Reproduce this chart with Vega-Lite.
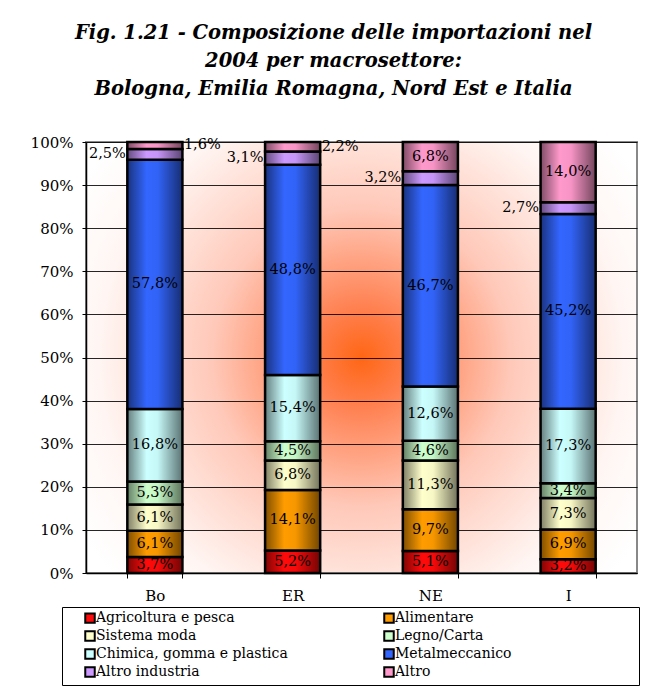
{
  "$schema": "https://vega.github.io/schema/vega-lite/v6.json",
  "autosize": {"type": "none"},
  "padding": {"left": 86, "top": 142, "right": 14, "bottom": 119},
  "width": 551,
  "height": 431,
  "background": "white",
  "title": {
    "text": ["Fig. 1.21 - Composizione delle importazioni nel", "2004 per macrosettore:", "Bologna, Emilia Romagna, Nord Est e Italia"],
    "font": "DejaVu Serif",
    "fontSize": 19.5,
    "fontStyle": "italic",
    "fontWeight": "bold",
    "color": "black",
    "lineHeight": 28,
    "anchor": "middle",
    "dx": -28,
    "offset": 36
  },
  "data": {
    "values": [
      {"cat": "Bo", "sector": "Agricoltura e pesca", "ord": 1, "v": 0.037},
      {"cat": "Bo", "sector": "Alimentare", "ord": 2, "v": 0.061},
      {"cat": "Bo", "sector": "Sistema moda", "ord": 3, "v": 0.061},
      {"cat": "Bo", "sector": "Legno/Carta", "ord": 4, "v": 0.053},
      {"cat": "Bo", "sector": "Chimica, gomma e plastica", "ord": 5, "v": 0.168},
      {"cat": "Bo", "sector": "Metalmeccanico", "ord": 6, "v": 0.578},
      {"cat": "Bo", "sector": "Altro industria", "ord": 7, "v": 0.025},
      {"cat": "Bo", "sector": "Altro", "ord": 8, "v": 0.016},
      {"cat": "ER", "sector": "Agricoltura e pesca", "ord": 1, "v": 0.052},
      {"cat": "ER", "sector": "Alimentare", "ord": 2, "v": 0.141},
      {"cat": "ER", "sector": "Sistema moda", "ord": 3, "v": 0.068},
      {"cat": "ER", "sector": "Legno/Carta", "ord": 4, "v": 0.045},
      {"cat": "ER", "sector": "Chimica, gomma e plastica", "ord": 5, "v": 0.154},
      {"cat": "ER", "sector": "Metalmeccanico", "ord": 6, "v": 0.488},
      {"cat": "ER", "sector": "Altro industria", "ord": 7, "v": 0.031},
      {"cat": "ER", "sector": "Altro", "ord": 8, "v": 0.022},
      {"cat": "NE", "sector": "Agricoltura e pesca", "ord": 1, "v": 0.051},
      {"cat": "NE", "sector": "Alimentare", "ord": 2, "v": 0.097},
      {"cat": "NE", "sector": "Sistema moda", "ord": 3, "v": 0.113},
      {"cat": "NE", "sector": "Legno/Carta", "ord": 4, "v": 0.046},
      {"cat": "NE", "sector": "Chimica, gomma e plastica", "ord": 5, "v": 0.126},
      {"cat": "NE", "sector": "Metalmeccanico", "ord": 6, "v": 0.467},
      {"cat": "NE", "sector": "Altro industria", "ord": 7, "v": 0.032},
      {"cat": "NE", "sector": "Altro", "ord": 8, "v": 0.068},
      {"cat": "I", "sector": "Agricoltura e pesca", "ord": 1, "v": 0.032},
      {"cat": "I", "sector": "Alimentare", "ord": 2, "v": 0.069},
      {"cat": "I", "sector": "Sistema moda", "ord": 3, "v": 0.073},
      {"cat": "I", "sector": "Legno/Carta", "ord": 4, "v": 0.034},
      {"cat": "I", "sector": "Chimica, gomma e plastica", "ord": 5, "v": 0.173},
      {"cat": "I", "sector": "Metalmeccanico", "ord": 6, "v": 0.452},
      {"cat": "I", "sector": "Altro industria", "ord": 7, "v": 0.027},
      {"cat": "I", "sector": "Altro", "ord": 8, "v": 0.140}
    ]
  },
  "encoding": {
    "x": {
      "field": "cat", "type": "nominal", "sort": ["Bo", "ER", "NE", "I"],
      "scale": {"paddingInner": 0.6, "paddingOuter": 0.3},
      "axis": {"title": null, "labelAngle": 0, "tickBand": "extent", "tickSize": 5, "labelPadding": 10, "grid": false, "domainColor": "black", "tickColor": "black", "domainWidth": 1.5}
    },
    "y": {
      "field": "v", "type": "quantitative", "stack": "normalize",
      "scale": {"domain": [0, 1], "nice": false},
      "axis": {"title": null, "format": ".0%", "values": [0, 0.1, 0.2, 0.3, 0.4, 0.5, 0.6, 0.7, 0.8, 0.9, 1], "tickSize": 4, "labelPadding": 9, "gridColor": "black", "gridWidth": 1, "gridOpacity": 0.85, "domainColor": "black", "tickColor": "black", "domainWidth": 1.5}
    },
    "order": {"field": "ord", "type": "quantitative"}
  },
  "layer": [
    {
      "mark": {"type": "bar", "stroke": "black", "strokeWidth": 2.5, "fillOpacity": 1},
      "encoding": {
        "color": {
          "field": "sector", "type": "nominal",
          "scale": {
            "domain": ["Agricoltura e pesca", "Alimentare", "Sistema moda", "Legno/Carta", "Chimica, gomma e plastica", "Metalmeccanico", "Altro industria", "Altro"],
            "range": ["#ff0a0a", "#ff9c00", "#ffffcc", "#ccffcc", "#ccffff", "#3366ff", "#cc99ff", "#ff99cc"]
          },
          "legend": {
            "title": " ",
            "titleOrient": "right",
            "titlePadding": 124,
            "orient": "none",
            "legendX": -24,
            "legendY": 465,
            "columns": 2,
            "direction": "horizontal",
            "columnPadding": 77,
            "rowPadding": 0,
            "padding": 4,
            "symbolOffset": 17,
            "labelOffset": -1,
            "symbolType": "square",
            "symbolSize": 90,
            "symbolStrokeColor": "black",
            "symbolStrokeWidth": 2,
            "symbolOpacity": 1,
            "labelFont": "DejaVu Serif",
            "labelFontSize": 14,
            "labelColor": "black",
            "labelLimit": 300,
            "strokeColor": "black",
            "fillColor": "white"
          }
        }
      }
    },
    {
      "mark": {
        "type": "bar",
        "fill": {
          "gradient": "linear", "x1": 0, "y1": 0, "x2": 1, "y2": 0,
          "stops": [
            {"offset": 0, "color": "rgba(0,0,0,0.5)"},
            {"offset": 0.35, "color": "rgba(0,0,0,0)"},
            {"offset": 0.55, "color": "rgba(0,0,0,0.03)"},
            {"offset": 1, "color": "rgba(0,0,0,0.55)"}
          ]
        },
        "strokeWidth": 0
      }
    },
    {
      "mark": {"type": "text", "font": "DejaVu Serif", "fontSize": 14.5, "color": "black", "baseline": "middle", "align": "center"},
      "encoding": {
        "y": {"field": "v", "type": "quantitative", "stack": "normalize", "bandPosition": 0.5},
        "text": {
          "condition": {"test": "datum.sector !== 'Altro industria' && !(datum.sector === 'Altro' && datum.v < 0.05)", "field": "v", "type": "quantitative", "format": ".1%"},
          "value": ""
        }
      }
    },
    {
      "mark": {"type": "text", "font": "DejaVu Serif", "fontSize": 14.5, "color": "black", "baseline": "middle", "align": "right", "dx": -29},
      "encoding": {
        "y": {"field": "v", "type": "quantitative", "stack": "normalize", "bandPosition": 0.5},
        "text": {
          "condition": {"test": "datum.sector === 'Altro industria'", "field": "v", "type": "quantitative", "format": ".1%"},
          "value": ""
        }
      }
    },
    {
      "mark": {"type": "text", "font": "DejaVu Serif", "fontSize": 14.5, "color": "black", "baseline": "middle", "align": "left", "dx": 29},
      "encoding": {
        "y": {"field": "v", "type": "quantitative", "stack": "normalize", "bandPosition": 0.5},
        "text": {
          "condition": {"test": "datum.sector === 'Altro' && datum.v < 0.05", "field": "v", "type": "quantitative", "format": ".1%"},
          "value": ""
        }
      }
    }
  ],
  "view": {
    "stroke": "#888888",
    "strokeWidth": 2,
    "fill": {
      "gradient": "radial", "x1": 0.5, "y1": 0.5, "r1": 0, "x2": 0.5, "y2": 0.5, "r2": 0.6,
      "stops": [
        {"offset": 0, "color": "#ff6614"},
        {"offset": 0.15, "color": "#ff8050"},
        {"offset": 0.45, "color": "#ffc8b8"},
        {"offset": 0.8, "color": "#fff6f3"},
        {"offset": 1, "color": "#ffffff"}
      ]
    }
  },
  "config": {
    "locale": {"number": {"decimal": ",", "thousands": ".", "grouping": [3], "currency": ["", " €"]}},
    "font": "DejaVu Serif",
    "axis": {"labelFont": "DejaVu Serif", "labelFontSize": 15, "labelColor": "black"}
  }
}
